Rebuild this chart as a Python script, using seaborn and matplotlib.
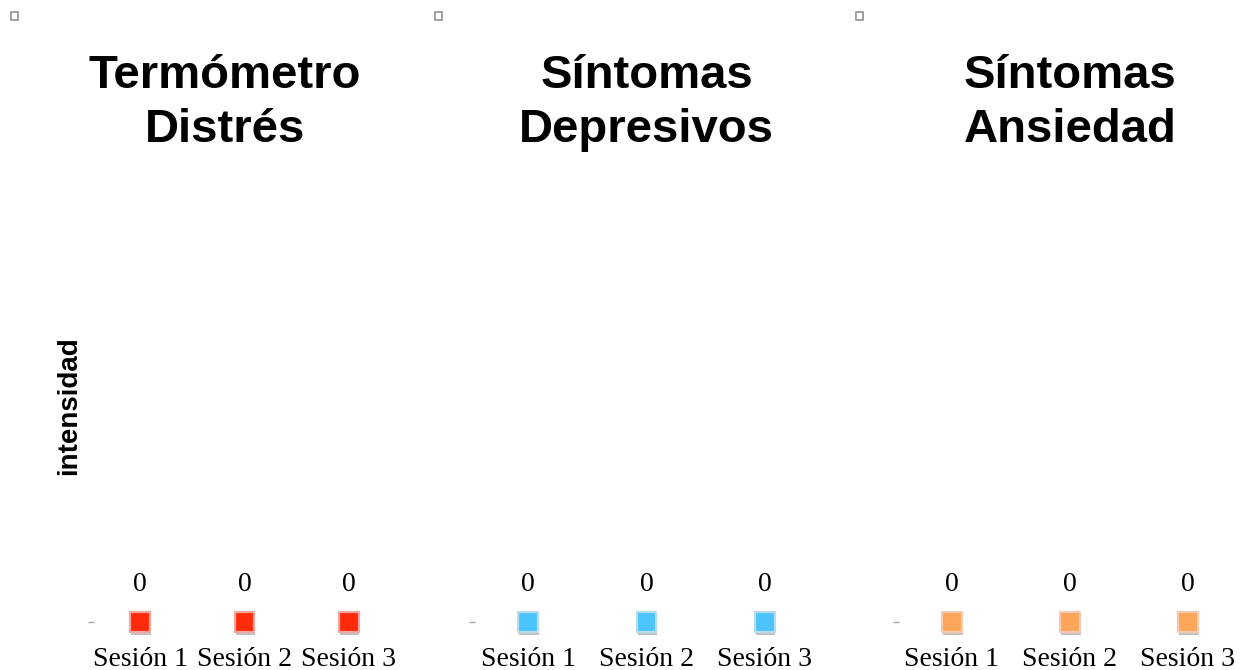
import matplotlib
matplotlib.use("Agg")
import matplotlib.pyplot as plt
import matplotlib.patheffects as pe
from matplotlib.patches import Rectangle
import seaborn as sns
import pandas as pd

# --- data -------------------------------------------------------------
sesiones = ["Sesión 1", "Sesión 2", "Sesión 3"]
titulos = ["Termómetro\nDistrés", "Síntomas\nDepresivos", "Síntomas\nAnsiedad"]
termometro = [0, 0, 0]
depresivos = [0, 0, 0]
ansiedad = [0, 0, 0]
colores = ["#FF2A0A", "#4CC4FF", "#FBA65A"]
bordes = ["#F2A7A0", "#B9DCEB", "#F8C9B2"]
eje_y = "intensidad"

sns.set_theme(style="white")
plt.rcParams["font.family"] = ["Liberation Sans", "DejaVu Sans"]

fig = plt.figure(figsize=(12.48, 6.70), dpi=100)

W, H = 1248, 670
paneles = [(88, 313), (469, 355), (893, 354)]
title_x = [0.438, 0.501, 0.5]
ax_bottom_px, ax_top_px = 622, 190
serif = ["Liberation Serif", "DejaVu Serif"]

series = [termometro, depresivos, ansiedad]
for k, (left, width) in enumerate(paneles):
    ax = fig.add_axes([left / W, 1 - ax_bottom_px / H, width / W,
                       (ax_bottom_px - ax_top_px) / H])
    df = pd.DataFrame({"sesion": sesiones, "valor": series[k]})
    sns.scatterplot(data=df, x="sesion", y="valor", marker="s", s=200,
                    color=colores[k], edgecolor=bordes[k], linewidth=1.6,
                    ax=ax, clip_on=False, zorder=3, legend=False)
    for coll in ax.collections:
        coll.set_path_effects([
            pe.SimplePatchShadow(offset=(0.6, -2.2), shadow_rgbFace="#777777",
                                 alpha=0.45),
            pe.Normal()])
    for i, v in enumerate(series[k]):
        ax.annotate(f"{v}", (i, v), xytext=(0, 27), textcoords="offset points",
                    ha="center", va="center", fontsize=20,
                    family=serif, color="black")
    ax.set_xlim(-0.5, len(sesiones) - 0.5)
    ax.set_ylim(0, 1)
    ax.set_yticks([0])
    ax.set_yticklabels([""])
    ax.tick_params(axis="y", direction="in", length=4, width=1,
                   color="#a8a8a8", left=True)
    ax.tick_params(axis="x", length=0, pad=18, labelcolor="black")
    ax.set_xticks(range(len(sesiones)))
    ax.set_xticklabels(sesiones, fontsize=20, family=serif)
    ax.set_xlabel("")
    ax.set_ylabel("")
    for s in ax.spines.values():
        s.set_visible(False)
    ax.patch.set_alpha(0)
    ax.text(title_x[k], 1.087, titulos[k], transform=ax.transAxes,
            ha="center", va="bottom", fontsize=34, fontweight="bold",
            linespacing=1.32, color="black")
    if k == 0:
        ax.set_ylabel(eje_y, fontsize=20, fontweight="bold", labelpad=1,
                      color="black")

# small hollow frame icons at the top of each panel
for px in (14, 438, 860):
    fig.add_artist(Rectangle(((px - 3.5) / W, 1 - (16 + 3.5) / H), 7 / W, 7 / H,
                             transform=fig.transFigure, fill=False,
                             edgecolor="#9a9a9a", linewidth=1.3))

fig.savefig("out.png", dpi=100, facecolor="white")
